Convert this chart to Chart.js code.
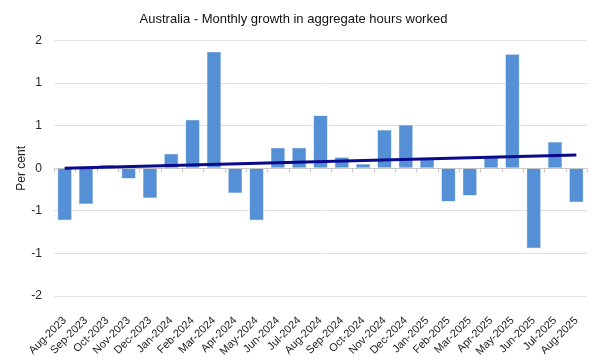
<!DOCTYPE html>
<html lang="en">
<head>
<meta charset="utf-8">
<title>Australia - Monthly growth in aggregate hours worked</title>
<script src="https://cdn.jsdelivr.net/npm/chart.js@4.4.1/dist/chart.umd.min.js"></script>
<style>
  html, body { margin: 0; padding: 0; background: #fff; }
  #wrap { width: 600px; height: 361px; }
</style>
</head>
<body>
<div id="wrap"><canvas id="hours-chart"></canvas></div>
<script>
// monthly growth in aggregate hours worked, per cent
var months = ['Aug-2023', 'Sep-2023', 'Oct-2023', 'Nov-2023', 'Dec-2023', 'Jan-2024',
  'Feb-2024', 'Mar-2024', 'Apr-2024', 'May-2024', 'Jun-2024', 'Jul-2024', 'Aug-2024',
  'Sep-2024', 'Oct-2024', 'Nov-2024', 'Dec-2024', 'Jan-2025', 'Feb-2025', 'Mar-2025',
  'Apr-2025', 'May-2025', 'Jun-2025', 'Jul-2025', 'Aug-2025'];
var growth = [-0.61, -0.42, 0.04, -0.12, -0.35, 0.17, 0.57, 1.37, -0.29, -0.61, 0.24, 0.24,
  0.62, 0.13, 0.05, 0.45, 0.51, 0.11, -0.39, -0.32, 0.13, 1.34, -0.94, 0.31, -0.40];
// linear trend line, value at first and last month
var trendStart = 0.0;
var trendEnd = 0.155;
// excel shows the half-step ticks rounded to whole numbers
var yTicks = [-1.5, -1, -0.5, 0, 0.5, 1, 1.5];
var yTickLabels = ['-2', '-1', '-1', '0', '1', '1', '2'];

var trend = months.map(function (m, i) {
  if (i == 0) return trendStart;
  if (i == months.length - 1) return trendEnd;
  return null;
});

// category axis sitting on zero, with small tick marks between months
var zeroAxis = {
  id: 'zeroAxis',
  beforeDatasetsDraw: function (chart) {
    var ctx = chart.ctx, x = chart.scales.x, y = chart.scales.y;
    var y0 = Math.round(y.getPixelForValue(0)) + 0.5;
    var step = (x.right - x.left) / months.length;
    ctx.save();
    ctx.strokeStyle = '#c8c8c8';
    ctx.lineWidth = 1;
    ctx.beginPath();
    ctx.moveTo(x.left, y0);
    ctx.lineTo(x.right, y0);
    for (var i = 0; i <= months.length; i++) {
      var px = Math.round(x.left + i * step) + 0.5;
      ctx.moveTo(px, y0);
      ctx.lineTo(px, y0 + 4);
    }
    ctx.stroke();
    ctx.restore();
  }
};

new Chart(document.getElementById('hours-chart'), {
  type: 'bar',
  data: {
    labels: months,
    datasets: [
      {
        type: 'line',
        label: 'Trend',
        data: trend,
        spanGaps: true,
        borderColor: '#0a0a8a',
        borderWidth: 3,
        pointRadius: 0,
        fill: false,
        order: 0
      },
      {
        label: 'Growth',
        data: growth,
        backgroundColor: '#5590d6',
        borderColor: '#8db3e2',
        borderWidth: 0.5,
        categoryPercentage: 1,
        barPercentage: 0.66,
        order: 1
      }
    ]
  },
  options: {
    responsive: true,
    maintainAspectRatio: false,
    animation: false,
    layout: { padding: { left: 0, right: 13, top: 0, bottom: 2 } },
    plugins: {
      legend: { display: false },
      tooltip: { enabled: false },
      title: {
        display: true,
        text: 'Australia - Monthly growth in aggregate hours worked',
        color: '#111',
        font: { family: 'Liberation Sans', size: 13, weight: 'normal' },
        padding: { top: 12, bottom: 13 }
      }
    },
    scales: {
      x: {
        grid: { display: false },
        border: { display: false },
        ticks: {
          color: '#222',
          font: { family: 'Liberation Sans', size: 11 },
          minRotation: 45,
          maxRotation: 45,
          autoSkip: false,
          padding: 10
        },
        afterFit: function (s) { s.height = 63; }
      },
      y: {
        min: -1.5,
        max: 1.5,
        afterBuildTicks: function (s) {
          s.ticks = yTicks.map(function (v) { return { value: v }; });
        },
        ticks: {
          color: '#222',
          font: { family: 'Liberation Sans', size: 12 },
          padding: 12,
          callback: function (v, i) { return yTickLabels[i]; }
        },
        grid: { color: '#e2e2e2', drawTicks: false },
        border: { display: false },
        title: {
          display: true,
          text: 'Per cent',
          color: '#222',
          font: { family: 'Liberation Sans', size: 12 },
          padding: { top: 14, bottom: 0 }
        },
        afterFit: function (s) { s.width = 54; }
      }
    }
  },
  plugins: [zeroAxis]
});
</script>
</body>
</html>
